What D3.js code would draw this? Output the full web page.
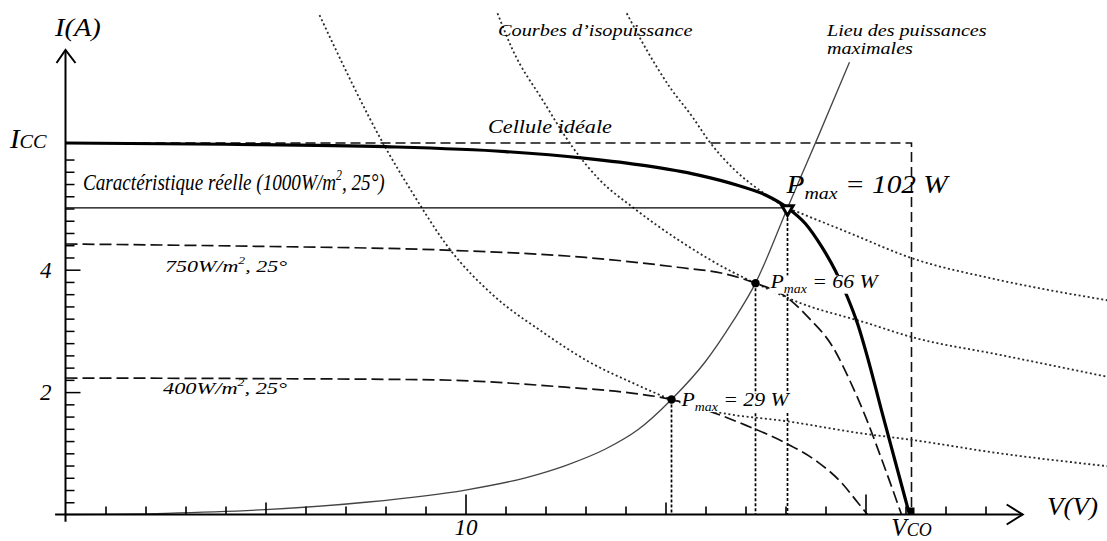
<!DOCTYPE html>
<html><head><meta charset="utf-8">
<script src="https://cdn.jsdelivr.net/npm/d3@7"></script>
<style>
html,body{margin:0;padding:0;background:#fff;}
svg{display:block;}
text{font-family:"Liberation Serif","Times New Roman",serif;font-style:italic;fill:#000;}
</style></head><body>
<svg id="chart" width="1107" height="541"></svg>
<script>
// Real I–V characteristic at 1000 W/m², 25 °C (V in volts, I in amperes)
const curve1000V = [0, 4, 8, 11, 13, 14.5, 15.8, 16.8, 17.5, 18.05, 18.5, 18.9, 19.25, 19.55, 19.8, 20.1, 20.4, 20.75, 21.1];
const curve1000I = [6.07, 6.05, 6.01, 5.93, 5.82, 5.70, 5.55, 5.38, 5.22, 5.01, 4.75, 4.38, 3.98, 3.55, 3.12, 2.45, 1.70, 0.85, 0];
// 750 W/m², 25 °C
const curve750V = [0, 5, 9.5, 13, 15.3, 16.5, 17.25, 18.03, 18.6, 19.18, 19.6, 20.03, 20.45, 20.9];
const curve750I = [4.42, 4.38, 4.32, 4.2, 4.04, 3.93, 3.78, 3.55, 3.2, 2.74, 2.2, 1.55, 0.82, 0];
// 400 W/m², 25 °C
const curve400V = [0, 5, 9.2, 12.5, 14.2, 15.15, 16.0, 17.0, 18.0, 18.8, 19.4, 19.8, 20.05];
const curve400I = [2.23, 2.22, 2.2, 2.08, 1.98, 1.88, 1.71, 1.46, 1.17, 0.86, 0.52, 0.2, 0];
// Locus of the maximum power points
const locusV = [0, 2.5, 5, 7.5, 10, 11.5, 12.5, 13.5, 14.3, 15.15, 16.0, 16.68, 17.25, 18.05, 18.8, 19.6];
const locusI = [0, 0.02, 0.08, 0.2, 0.4, 0.6, 0.8, 1.07, 1.38, 1.88, 2.5, 3.15, 3.78, 5.01, 6.15, 7.39];
// Iso-power curves through the three maximum power points
const iso29V = [6.35, 8.03, 8.68, 9.6, 10.68, 11.93, 13.1, 14.18, 15.15, 16.18, 18.18, 19.85, 21.15, 23.35, 26.05];
const iso29I = [8.16, 5.96, 5.25, 4.34, 3.59, 2.98, 2.49, 2.15, 1.88, 1.69, 1.51, 1.33, 1.22, 1.0, 0.79];
const iso66V = [10.8, 11.18, 11.93, 12.68, 13.35, 14.18, 15.43, 16.68, 17.25, 18.35, 20.03, 21.15, 23.35, 26.05];
const iso66I = [8.19, 7.59, 6.77, 6.0, 5.47, 5.02, 4.44, 3.96, 3.78, 3.46, 3.13, 2.9, 2.61, 2.25];
const iso102V = [14.03, 14.53, 15.1, 15.68, 16.1, 16.73, 17.35, 18.05, 18.35, 19.6, 21.15, 23.35, 26.05];
const iso102I = [8.19, 7.59, 6.99, 6.49, 6.09, 5.63, 5.3, 5.01, 4.93, 4.6, 4.19, 3.83, 3.5];
// Maximum power points
const pmaxV = [15.15, 17.25, 18.05];
const pmaxI = [1.88, 3.78, 5.01];
const pmaxW = [29, 66, 102];
// Short-circuit current and open-circuit voltage
const icc = 6.07;
const vco = 21.15;
// Axis ticks
const xTicks = d3.range(1, 24);
const xTickLabels = {10: "10"};
const yTicks = d3.range(1, 30).map(k => +(k * 0.2).toFixed(1));
const yTickLabels = {2: "2", 4: "4"};

const svg = d3.select("#chart");
const x = d3.scaleLinear().domain([0, 24]).range([65.5, 1025.5]);
const y = d3.scaleLinear().domain([0, 8]).range([514.5, 24.9]);

const zip = (vs, is) => vs.map((v, k) => [v, is[k]]);
const line = d3.line().x(d => x(d[0])).y(d => y(d[1])).curve(d3.curveMonotoneX);

// Ideal cell rectangle (Icc × Vco)
svg.append("path")
  .attr("d", `M${x(0)},${y(icc)}H${x(vco)}V${y(0)}`)
  .attr("fill", "none").attr("stroke", "#111").attr("stroke-width", 1.6)
  .attr("stroke-dasharray", "10,5");

// Iso-power curves
[[iso29V, iso29I], [iso66V, iso66I], [iso102V, iso102I]].forEach(([v, i]) => {
  svg.append("path").attr("d", line(zip(v, i)))
    .attr("fill", "none").attr("stroke", "#2a2a2a").attr("stroke-width", 1.8)
    .attr("stroke-dasharray", "2,2.6");
});

// Drop lines from each maximum power point
pmaxV.forEach((v, k) => {
  svg.append("line")
    .attr("x1", x(v)).attr("x2", x(v)).attr("y1", y(pmaxI[k])).attr("y2", y(0))
    .attr("stroke", "#000").attr("stroke-width", 1.7).attr("stroke-dasharray", "3,2");
});
// Horizontal line at the current of the 1000 W/m² maximum
svg.append("line")
  .attr("x1", x(0)).attr("x2", x(pmaxV[2])).attr("y1", y(pmaxI[2])).attr("y2", y(pmaxI[2]))
  .attr("stroke", "#000").attr("stroke-width", 1.3);

// Locus of maximum powers
svg.append("path").attr("d", line(zip(locusV, locusI)))
  .attr("fill", "none").attr("stroke", "#444").attr("stroke-width", 1.3);

// Reduced-irradiance characteristics
[[curve750V, curve750I], [curve400V, curve400I]].forEach(([v, i]) => {
  svg.append("path").attr("d", line(zip(v, i)))
    .attr("fill", "none").attr("stroke", "#111").attr("stroke-width", 1.7)
    .attr("stroke-dasharray", "12,5");
});

// Real characteristic, 1000 W/m²
svg.append("path").attr("d", line(zip(curve1000V, curve1000I)))
  .attr("fill", "none").attr("stroke", "#000").attr("stroke-width", 3.2);

// Axes
const gx = svg.append("g").attr("transform", `translate(0,${y(0)})`)
  .call(d3.axisBottom(x).tickValues(xTicks).tickSize(-8).tickSizeOuter(0).tickPadding(4)
    .tickFormat(d => xTickLabels[d] || ""));
gx.select(".domain").remove();
gx.selectAll(".tick line")
  .attr("y2", d => d % 10 === 0 ? -20 : d % 5 === 0 ? -12 : -8)
  .attr("stroke", "#000").attr("stroke-width", 1.6);
gx.selectAll(".tick text").attr("font-size", 23);

const gy = svg.append("g").attr("transform", `translate(${x(0)},0)`)
  .call(d3.axisLeft(y).tickValues(yTicks).tickSize(-9).tickSizeOuter(0).tickPadding(14)
    .tickFormat(d => yTickLabels[d] || ""));
gy.select(".domain").remove();
gy.selectAll(".tick line")
  .attr("x2", d => d % 2 === 0 ? 15 : 9)
  .attr("stroke", "#000").attr("stroke-width", 1.5);
gy.selectAll(".tick text").attr("font-size", 23);

const axisStroke = {stroke: "#000", "stroke-width": 2, fill: "none"};
const applyAttrs = (sel, a) => { Object.entries(a).forEach(([k, v]) => sel.attr(k, v)); return sel; };
applyAttrs(svg.append("path").attr("d", `M${x(-0.26)},${y(0)}H${x(23.93)}`), axisStroke);
applyAttrs(svg.append("path").attr("d", `M${x(23.93) - 16},${y(0) - 10}L${x(23.93)},${y(0)}L${x(23.93) - 16},${y(0) + 10}`), axisStroke);
applyAttrs(svg.append("path").attr("d", `M${x(0)},${y(-0.12)}V${y(7.59)}`), axisStroke);
applyAttrs(svg.append("path").attr("d", `M${x(0) - 9},${y(7.59) + 13}L${x(0)},${y(7.59)}L${x(0) + 10},${y(7.59) + 13}`), axisStroke);

// Maximum power point markers
pmaxV.slice(0, 2).forEach((v, k) => {
  svg.append("circle").attr("cx", x(v)).attr("cy", y(pmaxI[k])).attr("r", 4.2).attr("fill", "#000");
});
svg.append("path")
  .attr("d", d3.symbol(d3.symbolTriangle, 55)())
  .attr("transform", `translate(${x(pmaxV[2])},${y(pmaxI[2]) + 1}) rotate(180)`)
  .attr("fill", "#fff").attr("stroke", "#000").attr("stroke-width", 3);
svg.append("rect").attr("x", x(vco) - 3).attr("y", y(0) - 7).attr("width", 6).attr("height", 7).attr("fill", "#000");

// Text annotations: widen or narrow a text horizontally to a given width
function fit(t, w) {
  if (!w) return t;
  const bw = t.node().getBBox().width;
  const x0 = +t.attr("x");
  t.attr("transform", `translate(${x0},0) scale(${w / bw},1) translate(${-x0},0)`);
  return t;
}
function pmaxLabel(k, dx, dy, fs, sub, w) {
  const g = svg.append("g");
  const t = g.append("text").attr("x", x(pmaxV[k]) + dx).attr("y", y(pmaxI[k]) + dy).attr("font-size", fs);
  t.append("tspan").text("P");
  t.append("tspan").attr("font-size", sub).attr("dy", fs * 0.25).text("max");
  t.append("tspan").attr("dy", -fs * 0.25).text(` = ${pmaxW[k]} W`);
  fit(t, w);
  return {g, t};
}
function withBackground({g, t}) {
  const b = t.node().getBBox();
  g.insert("rect", "text").attr("x", b.x).attr("y", b.y + 4).attr("width", b.width).attr("height", b.height - 6)
    .attr("transform", t.attr("transform")).attr("fill", "#fff");
}
withBackground(pmaxLabel(0, 10, 7, 19, 12, 111));
withBackground(pmaxLabel(1, 15, 5, 19, 12, 111));
pmaxLabel(2, -1, -15, 25, 17, 165);

const txt = (tx, ty, fs, s, w) => fit(svg.append("text").attr("x", tx).attr("y", ty).attr("font-size", fs).text(s), w);

txt(55, 36, 25, "I(A)", 47);
const iccT = svg.append("text").attr("x", 10).attr("y", y(icc) + 5).attr("font-size", 27);
iccT.append("tspan").text("I");
iccT.append("tspan").attr("font-size", 19).text("CC");
fit(iccT, 38);

const vcoT = svg.append("text").attr("x", x(vco)).attr("y", 536).attr("font-size", 25).attr("text-anchor", "middle");
vcoT.append("tspan").text("V");
vcoT.append("tspan").attr("font-size", 18).text("CO");

txt(1047, 515, 25, "V(V)", 51);

function irrLabel(tx, ty, fs, pre, post, w) {
  const t = svg.append("text").attr("x", tx).attr("y", ty).attr("font-size", fs);
  t.append("tspan").text(pre);
  t.append("tspan").attr("font-size", fs * 0.62).attr("dy", -fs * 0.45).text("2");
  t.append("tspan").attr("dy", fs * 0.45).text(post);
  fit(t, w);
}
irrLabel(83, 190, 22.5, "Caractéristique réelle (1000W/m", ", 25°)", 302);
irrLabel(165, 272, 17.5, "750W/m", ", 25°", 122);
irrLabel(163, 394, 17.5, "400W/m", ", 25°", 124);

txt(488, 133, 18.5, "Cellule idéale", 124);
txt(498, 36, 17.5, "Courbes d’isopuissance", 195);
txt(827, 36, 16.5, "Lieu des puissances", 161);
txt(827, 54, 16.5, "maximales", 86);
</script>
</body></html>
